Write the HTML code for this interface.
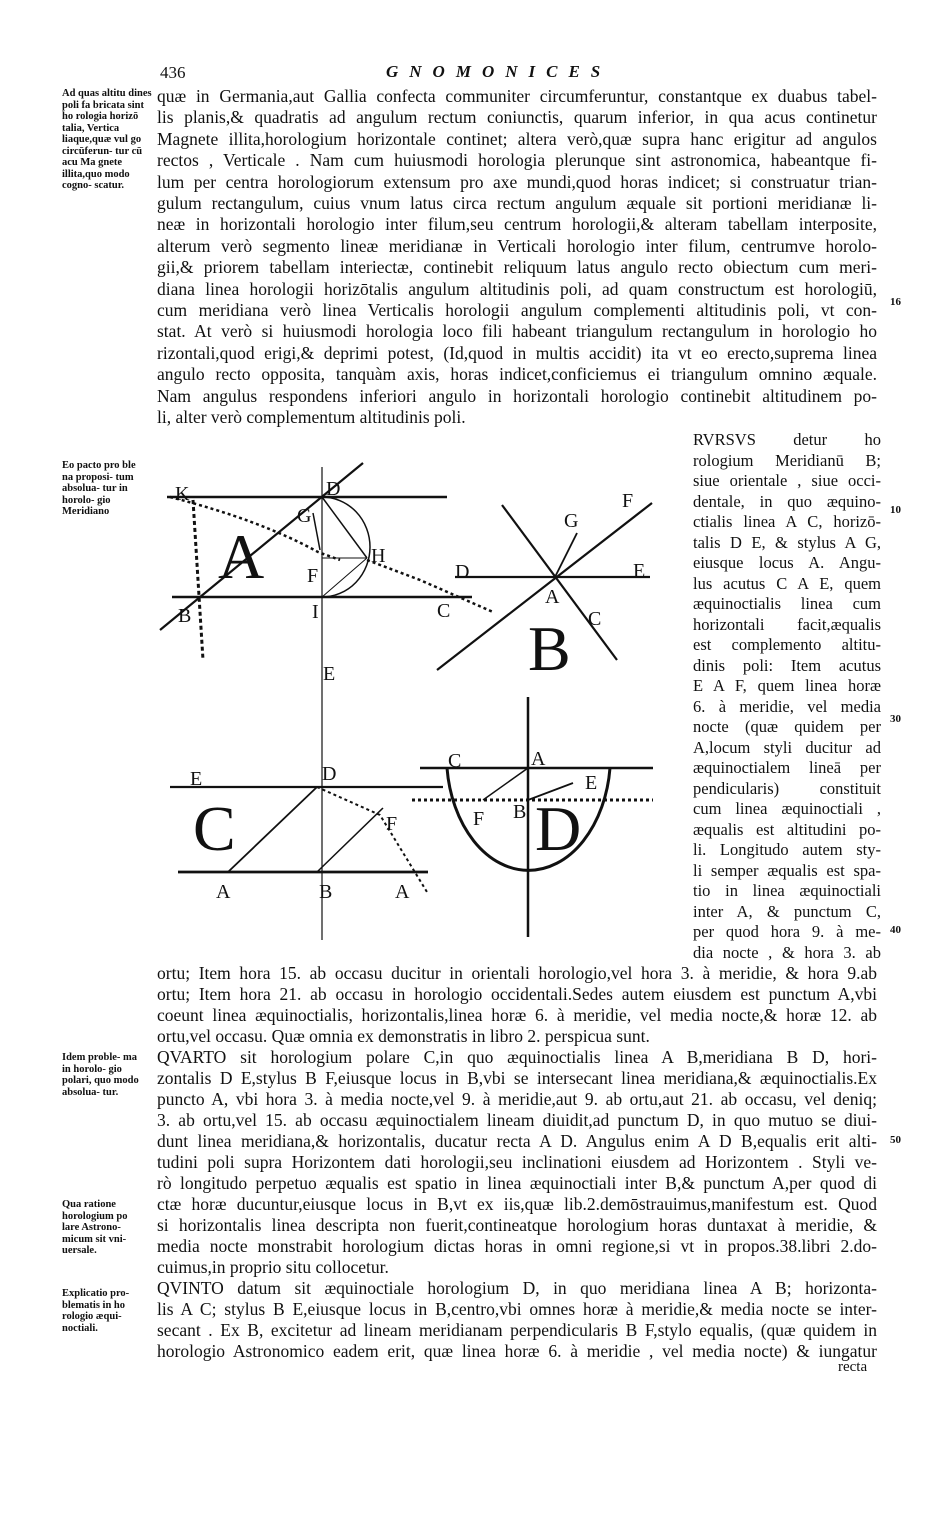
<!DOCTYPE html>
<html><head><meta charset="utf-8"><style>
body{margin:0;background:#fff;width:940px;height:1536px;position:relative;overflow:hidden;font-family:"Liberation Serif",serif;color:#111}
.l{position:absolute;font-size:17.5px;line-height:22px;height:22px;overflow:hidden;text-align:justify;text-align-last:justify}
.m{left:157px;width:720px}
.r{left:693px;width:188px;font-size:16.5px}
.n{position:absolute;font-size:10.5px;line-height:11.5px;font-weight:bold;width:90px}
.num{position:absolute;font-size:11px;font-weight:bold}
svg{position:absolute;left:0;top:0}
</style></head><body>
<div style="position:absolute;left:160px;top:63px;font-size:17px">436</div>
<div style="position:absolute;left:386px;top:62px;font-size:17px;font-style:italic;font-weight:bold;letter-spacing:11px">GNOMONICES</div>

<div class="n" style="left:62px;top:88px">Ad quas altitu dines poli fa bricata sint ho rologia horizō talia, Vertica liaque,quæ vul go circūferun- tur cū acu Ma gnete illita,quo modo cogno- scatur.</div>
<div class="n" style="left:62px;top:460px;width:84px">Eo pacto pro ble na proposi- tum absolua- tur in horolo- gio Meridiano</div>
<div class="n" style="left:62px;top:1052px;width:80px">Idem proble- ma in horolo- gio polari, quo modo absolua- tur.</div>
<div class="n" style="left:62px;top:1199px;width:84px">Qua ratione horologium po lare Astrono- micum sit vni- uersale.</div>
<div class="n" style="left:62px;top:1288px;width:84px">Explicatio pro- blematis in ho rologio æqui- noctiali.</div>

<div class="num" style="left:890px;top:296px">16</div>
<div class="num" style="left:890px;top:504px">10</div>
<div class="num" style="left:890px;top:713px">30</div>
<div class="num" style="left:890px;top:924px">40</div>
<div class="num" style="left:890px;top:1134px">50</div>

<div class="l m" style="top:85px">quæ in Germania,aut Gallia confecta communiter circumferuntur, constantque ex duabus tabel-</div>
<div class="l m" style="top:106px">lis planis,&amp; quadratis ad angulum rectum coniunctis, quarum inferior, in qua acus continetur</div>
<div class="l m" style="top:128px">Magnete illita,horologium horizontale continet; altera verò,quæ supra hanc erigitur ad angulos</div>
<div class="l m" style="top:149px">rectos , Verticale . Nam cum huiusmodi horologia plerunque sint astronomica, habeantque fi-</div>
<div class="l m" style="top:171px">lum per centra horologiorum extensum pro axe mundi,quod horas indicet; si construatur trian-</div>
<div class="l m" style="top:192px">gulum rectangulum, cuius vnum latus circa rectum angulum æquale sit portioni meridianæ li-</div>
<div class="l m" style="top:213px">neæ in horizontali horologio inter filum,seu centrum horologii,&amp; alteram tabellam interposite,</div>
<div class="l m" style="top:235px">alterum verò segmento lineæ meridianæ in Verticali horologio inter filum, centrumve horolo-</div>
<div class="l m" style="top:256px">gii,&amp; priorem tabellam interiectæ, continebit reliquum latus angulo recto obiectum cum meri-</div>
<div class="l m" style="top:278px">diana linea horologii horizōtalis angulum altitudinis poli, ad quam constructum est horologiū,</div>
<div class="l m" style="top:299px">cum meridiana verò linea Verticalis horologii angulum complementi altitudinis poli, vt con-</div>
<div class="l m" style="top:320px">stat. At verò si huiusmodi horologia loco fili habeant triangulum rectangulum in horologio ho</div>
<div class="l m" style="top:342px">rizontali,quod erigi,&amp; deprimi potest, (Id,quod in multis accidit) ita vt eo erecto,suprema linea</div>
<div class="l m" style="top:363px">angulo recto opposita, tanquàm axis, horas indicet,conficiemus ei triangulum omnino æquale.</div>
<div class="l m" style="top:385px">Nam angulus respondens inferiori angulo in horizontali horologio continebit altitudinem po-</div>
<div class="l m" style="top:406px;text-align-last:left">li, alter verò complementum altitudinis poli.</div>

<div class="l r" style="top:429px">RVRSVS detur ho</div>
<div class="l r" style="top:450px">rologium Meridianū B;</div>
<div class="l r" style="top:470px">siue orientale , siue occi-</div>
<div class="l r" style="top:491px">dentale, in quo æquino-</div>
<div class="l r" style="top:511px">ctialis linea A C, horizō-</div>
<div class="l r" style="top:532px">talis D E, &amp; stylus A G,</div>
<div class="l r" style="top:552px">eiusque locus A. Angu-</div>
<div class="l r" style="top:573px">lus acutus C A E, quem</div>
<div class="l r" style="top:593px">æquinoctialis linea cum</div>
<div class="l r" style="top:614px">horizontali facit,æqualis</div>
<div class="l r" style="top:634px">est complemento altitu-</div>
<div class="l r" style="top:655px">dinis poli: Item acutus</div>
<div class="l r" style="top:675px">E A F, quem linea horæ</div>
<div class="l r" style="top:696px">6. à meridie, vel media</div>
<div class="l r" style="top:716px">nocte (quæ quidem per</div>
<div class="l r" style="top:737px">A,locum styli ducitur ad</div>
<div class="l r" style="top:757px">æquinoctialem lineā per</div>
<div class="l r" style="top:778px">pendicularis) constituit</div>
<div class="l r" style="top:798px">cum linea æquinoctiali ,</div>
<div class="l r" style="top:819px">æqualis est altitudini po-</div>
<div class="l r" style="top:839px">li. Longitudo autem sty-</div>
<div class="l r" style="top:860px">li semper æqualis est spa-</div>
<div class="l r" style="top:880px">tio in linea æquinoctiali</div>
<div class="l r" style="top:901px">inter A, &amp; punctum C,</div>
<div class="l r" style="top:921px">per quod hora 9. à me-</div>
<div class="l r" style="top:942px">dia nocte , &amp; hora 3. ab</div>

<div class="l m" style="top:962px">ortu; Item hora 15. ab occasu ducitur in orientali horologio,vel hora 3. à meridie, &amp; hora 9.ab</div>
<div class="l m" style="top:983px">ortu; Item hora 21. ab occasu in horologio occidentali.Sedes autem eiusdem est punctum A,vbi</div>
<div class="l m" style="top:1004px">coeunt linea æquinoctialis, horizontalis,linea horæ 6. à meridie, vel media nocte,&amp; horæ 12. ab</div>
<div class="l m" style="top:1025px;text-align-last:left">ortu,vel occasu. Quæ omnia ex demonstratis in libro 2. perspicua sunt.</div>
<div class="l m" style="top:1046px">QVARTO sit horologium polare C,in quo æquinoctialis linea A B,meridiana B D, hori-</div>
<div class="l m" style="top:1067px">zontalis D E,stylus B F,eiusque locus in B,vbi se intersecant linea meridiana,&amp; æquinoctialis.Ex</div>
<div class="l m" style="top:1088px">puncto A, vbi hora 3. à media nocte,vel 9. à meridie,aut 9. ab ortu,aut 21. ab occasu, vel deniq;</div>
<div class="l m" style="top:1109px">3. ab ortu,vel 15. ab occasu æquinoctialem lineam diuidit,ad punctum D, in quo mutuo se diui-</div>
<div class="l m" style="top:1130px">dunt linea meridiana,&amp; horizontalis, ducatur recta A D. Angulus enim A D B,equalis erit alti-</div>
<div class="l m" style="top:1151px">tudini poli supra Horizontem dati horologii,seu inclinationi eiusdem ad Horizontem . Styli ve-</div>
<div class="l m" style="top:1172px">rò longitudo perpetuo æqualis est spatio in linea æquinoctiali inter B,&amp; punctum A,per quod di</div>
<div class="l m" style="top:1193px">ctæ horæ ducuntur,eiusque locus in B,vt ex iis,quæ lib.2.demōstrauimus,manifestum est. Quod</div>
<div class="l m" style="top:1214px">si horizontalis linea descripta non fuerit,contineatque horologium horas duntaxat à meridie, &amp;</div>
<div class="l m" style="top:1235px">media nocte monstrabit horologium dictas horas in omni regione,si vt in propos.38.libri 2.do-</div>
<div class="l m" style="top:1256px;text-align-last:left">cuimus,in proprio situ collocetur.</div>
<div class="l m" style="top:1277px">QVINTO datum sit æquinoctiale horologium D, in quo meridiana linea A B; horizonta-</div>
<div class="l m" style="top:1298px">lis A C; stylus B E,eiusque locus in B,centro,vbi omnes horæ à meridie,&amp; media nocte se inter-</div>
<div class="l m" style="top:1319px">secant . Ex B, excitetur ad lineam meridianam perpendicularis B F,stylo equalis, (quæ quidem in</div>
<div class="l m" style="top:1340px">horologio Astronomico eadem erit, quæ linea horæ 6. à meridie , vel media nocte) &amp; iungatur</div>
<div class="l" style="top:1356px;left:838px;font-size:15px">recta</div>

<svg width="940" height="1536" viewBox="0 0 940 1536" font-family="Liberation Serif,serif" fill="#111">
<g stroke="#111" fill="none">
<line x1="167" y1="497" x2="447" y2="497" stroke-width="2.5"/>
<line x1="172" y1="597" x2="472" y2="597" stroke-width="2.5"/>
<line x1="322" y1="467" x2="322" y2="940" stroke-width="1.2"/>
<line x1="160" y1="630" x2="363" y2="463" stroke-width="2.2"/>
<path d="M322 497 A48 50 0 0 1 322 597" stroke-width="1.5"/>
<line x1="322" y1="497" x2="367" y2="558" stroke-width="1.5"/>
<line x1="367" y1="558" x2="322" y2="597" stroke-width="1"/>
<line x1="322" y1="558" x2="367" y2="558" stroke-width="1"/>
<line x1="313" y1="513" x2="320" y2="550" stroke-width="1.5"/>
<line x1="193" y1="500" x2="203" y2="660" stroke-width="3" stroke-dasharray="4 3"/>
<path d="M170 497 Q260 520 318 552 L340 560" stroke-width="2.5" stroke-dasharray="3 3"/>
<path d="M367 560 L420 580 L493 612" stroke-width="2.5" stroke-dasharray="3 3"/>
<line x1="455" y1="577" x2="650" y2="577" stroke-width="2.2"/>
<line x1="437" y1="670" x2="652" y2="503" stroke-width="2.2"/>
<line x1="502" y1="505" x2="617" y2="660" stroke-width="2.2"/>
<line x1="555" y1="577" x2="577" y2="533" stroke-width="1.8"/>
<line x1="170" y1="787" x2="443" y2="787" stroke-width="2.2"/>
<line x1="178" y1="872" x2="428" y2="872" stroke-width="2.8"/>
<line x1="228" y1="872" x2="317" y2="787" stroke-width="1.8"/>
<line x1="317" y1="872" x2="383" y2="808" stroke-width="1.5"/>
<path d="M317 787 L380 815 L427 892" stroke-width="2" stroke-dasharray="3 3"/>
<line x1="420" y1="768" x2="653" y2="768" stroke-width="2.5"/>
<line x1="528" y1="697" x2="528" y2="937" stroke-width="2.5"/>
<path d="M447 768 A82 115 0 0 0 610 768" stroke-width="3"/>
<line x1="412" y1="800" x2="653" y2="800" stroke-width="3" stroke-dasharray="3 3"/>
<line x1="483" y1="800" x2="528" y2="768" stroke-width="1.5"/>
<line x1="528" y1="800" x2="573" y2="783" stroke-width="1.8"/>
</g>
<g font-size="20">
<text x="175" y="500">K</text><text x="326" y="495">D</text><text x="297" y="522">G</text><text x="371" y="562">H</text>
<text x="307" y="582">F</text><text x="312" y="618">I</text><text x="178" y="622">B</text><text x="437" y="617">C</text><text x="323" y="680">E</text>
<text x="455" y="578">D</text><text x="633" y="577">E</text><text x="545" y="603">A</text><text x="588" y="625">C</text><text x="622" y="507">F</text><text x="564" y="527">G</text>
<text x="190" y="785">E</text><text x="322" y="780">D</text><text x="386" y="830">F</text><text x="216" y="898">A</text><text x="319" y="898">B</text><text x="395" y="898">A</text>
<text x="448" y="767">C</text><text x="531" y="765">A</text><text x="585" y="789">E</text><text x="473" y="825">F</text><text x="513" y="818">B</text>
</g>
<g font-size="64"><text x="218" y="578">A</text><text x="528" y="670">B</text><text x="193" y="850">C</text><text x="535" y="850">D</text></g>
</svg>
</body></html>
